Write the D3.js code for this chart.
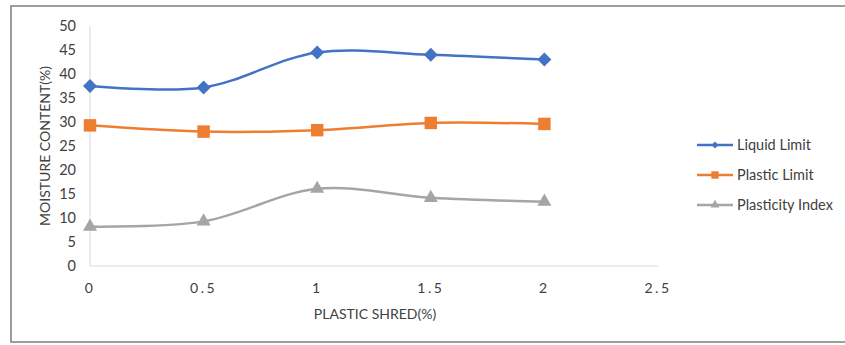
<!DOCTYPE html>
<html lang="en">
<head>
<meta charset="UTF-8">
<title>Moisture Content vs Plastic Shred</title>
<script src="https://cdnjs.cloudflare.com/ajax/libs/d3/7.8.5/d3.min.js"></script>
<style>
    * { margin: 0; padding: 0; box-sizing: border-box; }
    body { background: #fff; font-family: Lato, 'Open Sans', sans-serif; }
    svg text { fill: #404040; }
</style>
</head>
<body>
<svg id="chart" width="845" height="345"></svg>
<script>
    // data
    const shred = [0, 0.5, 1, 1.5, 2];
    const liquidLimit = [37.5, 37.2, 44.5, 44.0, 43.0];
    const plasticLimit = [29.3, 28.0, 28.3, 29.8, 29.6];
    const plasticityIndex = [8.2, 9.3, 16.1, 14.2, 13.4];
    const xTicks = [0, 0.5, 1, 1.5, 2, 2.5];
    const yTicks = [0, 5, 10, 15, 20, 25, 30, 35, 40, 45, 50];

    const series = [
        { name: 'Liquid Limit', values: liquidLimit, color: '#4472C4', symbol: d3.symbolDiamond2, size: 125, legendSize: 32 },
        { name: 'Plastic Limit', values: plasticLimit, color: '#ED7D31', symbol: d3.symbolSquare, size: 155, legendSize: 55 },
        { name: 'Plasticity Index', values: plasticityIndex, color: '#A5A5A5', symbol: d3.symbolTriangle, size: 85, legendSize: 35 }
    ];

    const svg = d3.select('#chart');

    // outer frame (right edge is cut off in the original)
    svg.append('path')
        .attr('d', 'M846,6 H11 V342 H846')
        .attr('fill', 'none')
        .attr('stroke', '#7f7f7f')
        .attr('stroke-width', 1.5);

    const x = d3.scaleLinear().domain([0, 2.5]).range([90, 658]);
    const y = d3.scaleLinear().domain([0, 50]).range([266, 26]);

    // axis lines
    svg.append('line')
        .attr('x1', x(0)).attr('x2', x(0))
        .attr('y1', y(50)).attr('y2', y(0))
        .attr('stroke', '#d9d9d9');
    svg.append('line')
        .attr('x1', x(0)).attr('x2', x(2.5))
        .attr('y1', y(0)).attr('y2', y(0))
        .attr('stroke', '#d9d9d9');

    // y tick labels
    svg.selectAll('.ytick')
        .data(yTicks)
        .enter()
        .append('text')
        .attr('class', 'ytick')
        .attr('x', 76)
        .attr('y', d => y(d))
        .attr('dy', '0.35em')
        .attr('text-anchor', 'end')
        .style('font-size', '14.5px')
        .text(d => d);

    // x tick labels (spaced out like the original)
    svg.selectAll('.xtick')
        .data(xTicks)
        .enter()
        .append('text')
        .attr('class', 'xtick')
        .attr('x', d => x(d))
        .attr('y', 288)
        .attr('dy', '0.35em')
        .attr('text-anchor', 'middle')
        .style('font-size', '14px')
        .style('letter-spacing', '2.5px')
        .text(d => d);

    // axis titles
    svg.append('text')
        .attr('x', 375)
        .attr('y', 314)
        .attr('dy', '0.35em')
        .attr('text-anchor', 'middle')
        .style('font-size', '14px')
        .text('PLASTIC SHRED(%)');

    svg.append('text')
        .attr('transform', 'translate(45,146) rotate(-90)')
        .attr('dy', '0.35em')
        .attr('text-anchor', 'middle')
        .style('font-size', '14px')
        .text('MOISTURE CONTENT(%)');

    const line = d3.line()
        .x((d, i) => x(shred[i]))
        .y(d => y(d))
        .curve(d3.curveCatmullRom.alpha(0.5));

    const groups = svg.selectAll('.series')
        .data(series)
        .enter()
        .append('g')
        .attr('class', 'series');

    groups.append('path')
        .attr('d', d => line(d.values))
        .attr('fill', 'none')
        .attr('stroke', d => d.color)
        .attr('stroke-width', 2.5)
        .attr('stroke-linecap', 'round');

    groups.each(function (s) {
        d3.select(this).selectAll('.marker')
            .data(s.values)
            .enter()
            .append('path')
            .attr('class', 'marker')
            .attr('d', d3.symbol().type(s.symbol).size(s.size))
            .attr('transform', (d, i) => `translate(${x(shred[i])},${y(d)})`)
            .attr('fill', s.color);
    });

    // legend
    const legend = svg.selectAll('.legend')
        .data(series)
        .enter()
        .append('g')
        .attr('class', 'legend')
        .attr('transform', (d, i) => `translate(0,${145 + i * 30})`);

    legend.append('line')
        .attr('x1', 697).attr('x2', 733)
        .attr('stroke', d => d.color)
        .attr('stroke-width', 2.5);

    legend.append('path')
        .attr('d', d => d3.symbol().type(d.symbol).size(d.legendSize)())
        .attr('transform', 'translate(715,0)')
        .attr('fill', d => d.color);

    legend.append('text')
        .attr('x', 737)
        .attr('dy', '0.35em')
        .style('font-size', '14.5px')
        .text(d => d.name);
</script>
</body>
</html>
